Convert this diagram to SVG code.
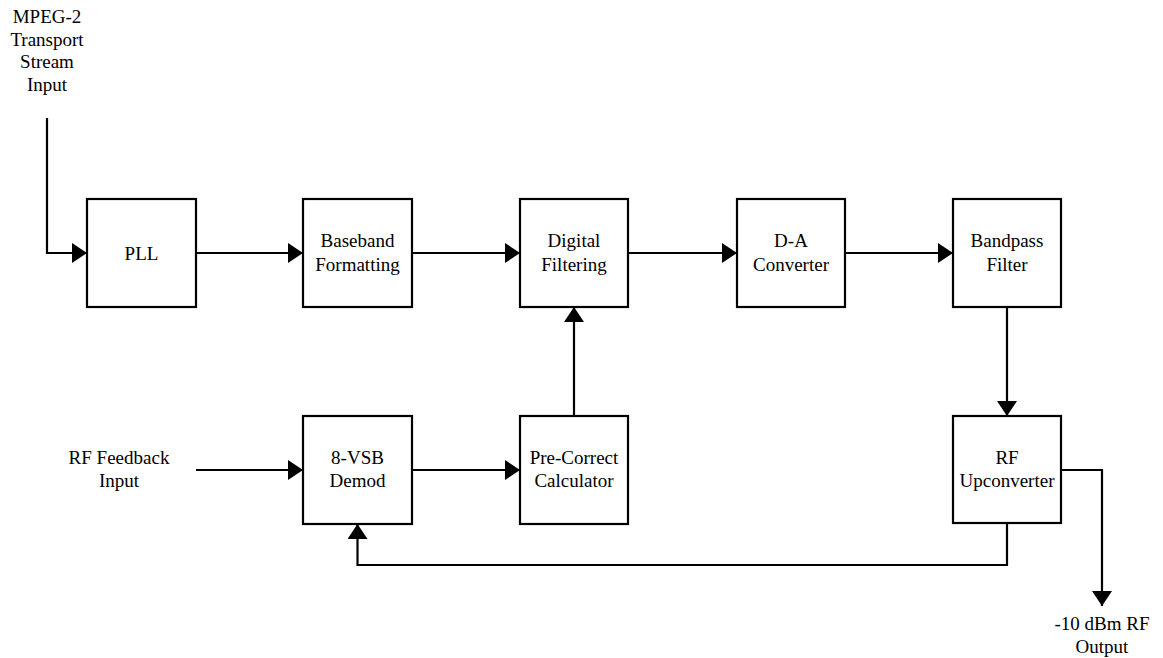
<svg xmlns="http://www.w3.org/2000/svg" width="1163" height="658" viewBox="0 0 1163 658">
<defs>
<style>
.box{fill:#fff;stroke:#000;stroke-width:2.2;}
.ln{fill:none;stroke:#000;stroke-width:2.2;}
text{font-family:"Liberation Serif","Times New Roman",serif;font-size:19px;fill:#000;text-anchor:middle;}
</style>
<marker id="ah" viewBox="0 0 15 20" refX="15" refY="10" markerWidth="15" markerHeight="20" markerUnits="userSpaceOnUse" orient="auto">
<path d="M0,0 L15,10 L0,20 Z" fill="#000"/>
</marker>
</defs>
<rect width="1163" height="658" fill="#fff"/>
<g id="connectors">
<path class="ln" d="M47,118 V253 H87" marker-end="url(#ah)"/>
<path class="ln" d="M196,253 H303" marker-end="url(#ah)"/>
<path class="ln" d="M412,253 H520" marker-end="url(#ah)"/>
<path class="ln" d="M628,253 H737" marker-end="url(#ah)"/>
<path class="ln" d="M845,253 H953" marker-end="url(#ah)"/>
<path class="ln" d="M1007,307 V416" marker-end="url(#ah)"/>
<path class="ln" d="M196,470 H303" marker-end="url(#ah)"/>
<path class="ln" d="M412,470 H520" marker-end="url(#ah)"/>
<path class="ln" d="M574,416 V307" marker-end="url(#ah)"/>
<path class="ln" d="M1007,523 V565 H357.5 V524" marker-end="url(#ah)"/>
<path class="ln" d="M1061,470 H1102 V606" marker-end="url(#ah)"/>
</g>
<g id="lbl-mpeg">
<text x="47" y="23">MPEG-2</text>
<text x="47" y="45.5">Transport</text>
<text x="47" y="68">Stream</text>
<text x="47" y="90.5">Input</text>
</g>
<g id="lbl-rffb">
<text x="119" y="464">RF Feedback</text>
<text x="119" y="487">Input</text>
</g>
<g id="lbl-out">
<text x="1102" y="630">-10 dBm RF</text>
<text x="1102" y="653">Output</text>
</g>
<g id="pll">
<rect class="box" x="87" y="199" width="109" height="108"/>
<text x="141.5" y="259.5">PLL</text>
</g>
<g id="baseband">
<rect class="box" x="303" y="199" width="109" height="108"/>
<text x="357.5" y="247">Baseband</text>
<text x="357.5" y="271">Formatting</text>
</g>
<g id="digital">
<rect class="box" x="520" y="199" width="108" height="108"/>
<text x="574" y="247">Digital</text>
<text x="574" y="271">Filtering</text>
</g>
<g id="da">
<rect class="box" x="737" y="199" width="108" height="108"/>
<text x="791" y="247">D-A</text>
<text x="791" y="271">Converter</text>
</g>
<g id="bandpass">
<rect class="box" x="953" y="199" width="108" height="108"/>
<text x="1007" y="247">Bandpass</text>
<text x="1007" y="271">Filter</text>
</g>
<g id="vsb">
<rect class="box" x="303" y="416" width="109" height="108"/>
<text x="357.5" y="464">8-VSB</text>
<text x="357.5" y="487">Demod</text>
</g>
<g id="precorrect">
<rect class="box" x="520" y="416" width="108" height="108"/>
<text x="574" y="464">Pre-Correct</text>
<text x="574" y="487">Calculator</text>
</g>
<g id="rfup">
<rect class="box" x="953" y="416" width="108" height="107"/>
<text x="1007" y="464">RF</text>
<text x="1007" y="487">Upconverter</text>
</g>
</svg>
